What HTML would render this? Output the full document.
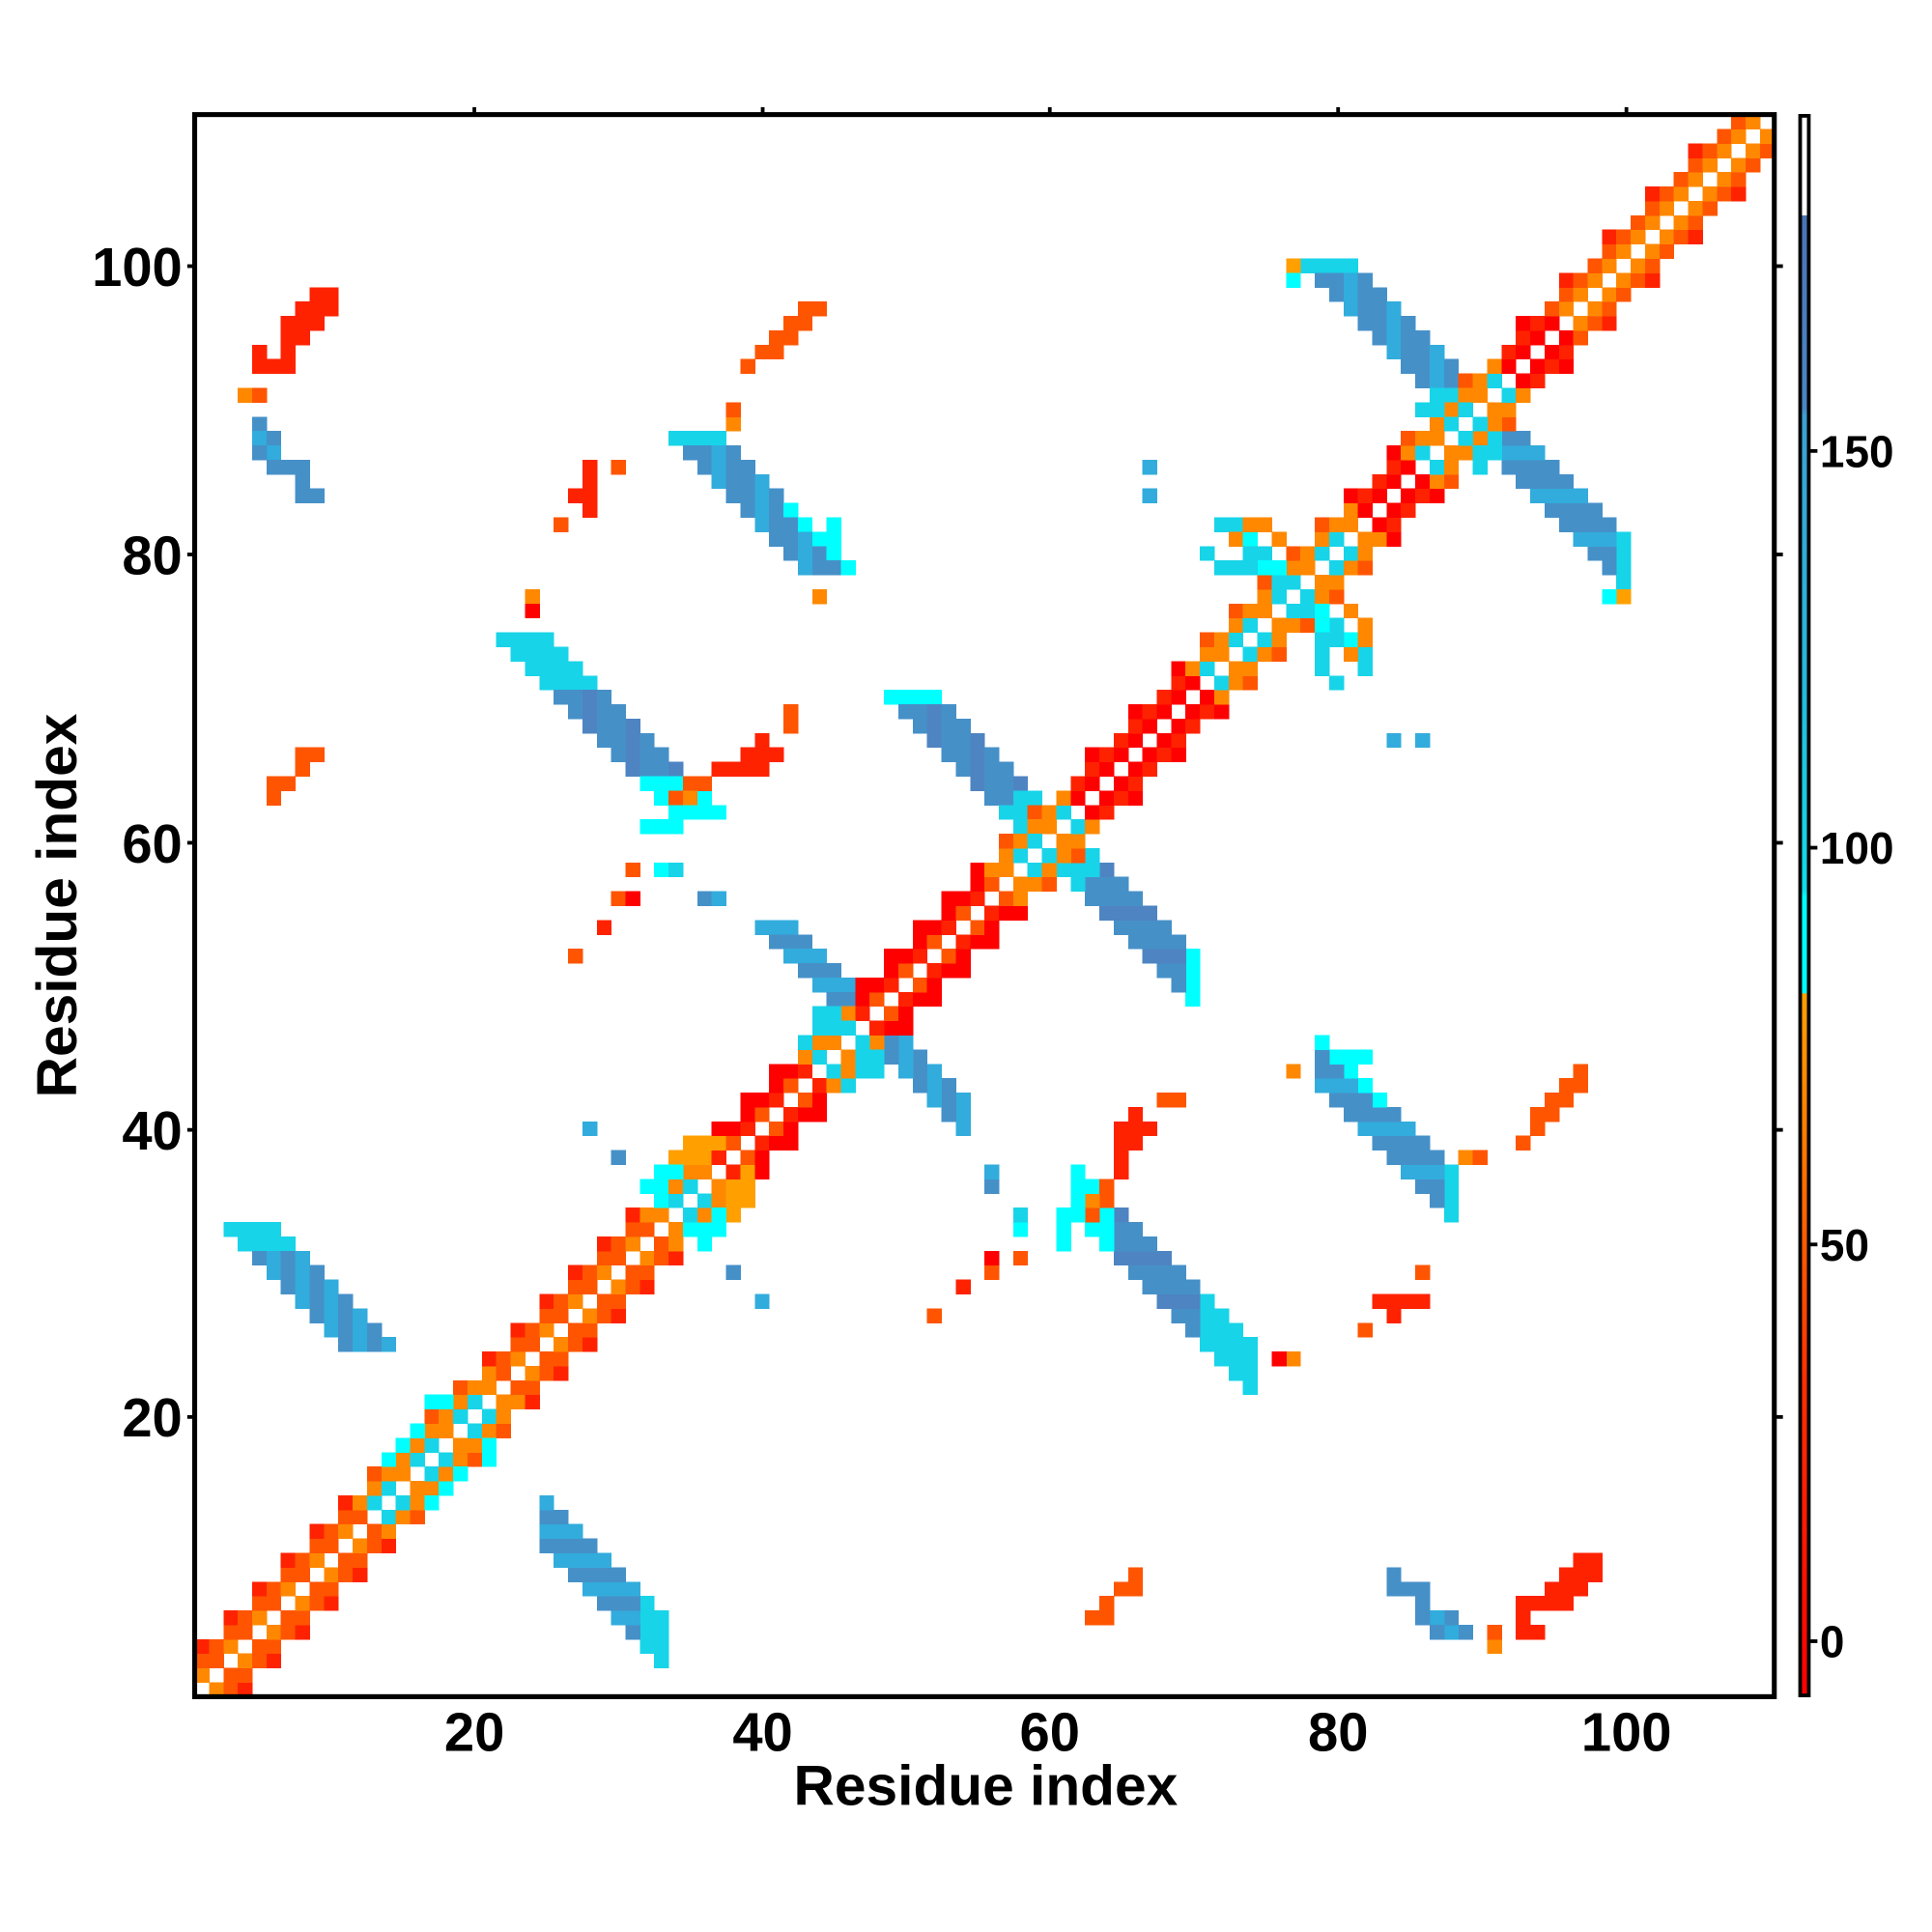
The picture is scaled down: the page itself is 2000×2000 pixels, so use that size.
<!DOCTYPE html>
<html><head><meta charset="utf-8">
<style>html,body{margin:0;padding:0;background:#fff}svg{display:block}text{font-family:"Liberation Sans",sans-serif;font-weight:bold}</style>
</head><body>
<svg id="s" xmlns="http://www.w3.org/2000/svg" width="2000" height="2000" viewBox="0 0 1568 1568">
<defs>
<linearGradient id="cb" x1="0" y1="0" x2="0" y2="1">
<stop offset="0" stop-color="#fff"/><stop offset="0.063" stop-color="#fff"/>
<stop offset="0.063" stop-color="#4a74b4"/><stop offset="0.185" stop-color="#4a86c2"/>
<stop offset="0.19" stop-color="#3ca0d2"/><stop offset="0.36" stop-color="#26b8da"/>
<stop offset="0.49" stop-color="#10dce8"/><stop offset="0.495" stop-color="#00ffff"/>
<stop offset="0.555" stop-color="#00ffff"/><stop offset="0.556" stop-color="#ffa000"/>
<stop offset="0.65" stop-color="#ff7a00"/><stop offset="0.8" stop-color="#ff3000"/>
<stop offset="1" stop-color="#ff0000"/>
</linearGradient>
</defs>
<g id="cells" shape-rendering="crispEdges"></g>
<rect x="158" y="93" width="1282" height="1284" fill="none" stroke="#000" stroke-width="4"/>
<g stroke="#000" stroke-width="3">
<line x1="385" y1="93" x2="385" y2="87"/><line x1="619" y1="93" x2="619" y2="87"/><line x1="852" y1="93" x2="852" y2="87"/><line x1="1086" y1="93" x2="1086" y2="87"/><line x1="1320" y1="93" x2="1320" y2="87"/>
<line x1="158" y1="216" x2="152" y2="216"/><line x1="158" y1="450" x2="152" y2="450"/><line x1="158" y1="684" x2="152" y2="684"/><line x1="158" y1="917" x2="152" y2="917"/><line x1="158" y1="1150" x2="152" y2="1150"/>
<line x1="1440" y1="216" x2="1447" y2="216"/><line x1="1440" y1="450" x2="1447" y2="450"/><line x1="1440" y1="684" x2="1447" y2="684"/><line x1="1440" y1="917" x2="1447" y2="917"/><line x1="1440" y1="1150" x2="1447" y2="1150"/>
<line x1="1468" y1="366" x2="1475" y2="366"/><line x1="1468" y1="688" x2="1475" y2="688"/><line x1="1468" y1="1010" x2="1475" y2="1010"/><line x1="1468" y1="1332" x2="1475" y2="1332"/>
</g>
<rect x="1461" y="94" width="7" height="1282" fill="url(#cb)" stroke="#000" stroke-width="3"/>
<g font-size="44" text-anchor="middle">
<text x="385" y="1421">20</text><text x="619" y="1421">40</text><text x="852" y="1421">60</text><text x="1086" y="1421">80</text><text x="1320" y="1421">100</text>
</g>
<g font-size="44" text-anchor="end">
<text x="148" y="232">100</text><text x="148" y="466">80</text><text x="148" y="700">60</text><text x="148" y="933">40</text><text x="148" y="1166">20</text>
</g>
<g font-size="36">
<text x="1477" y="379">150</text><text x="1477" y="701">100</text><text x="1477" y="1023">50</text><text x="1477" y="1345">0</text>
</g>
<text x="800" y="1465" font-size="46" text-anchor="middle">Residue index</text>
<text transform="translate(62,735) rotate(-90)" font-size="46" text-anchor="middle">Residue index</text>
</svg>
<script>
var R='#ff0000',R2='#ff2200',OR='#ff5500',O='#ff8800',O2='#ffa000',C='#00ffff',C2='#18d4e8',B1='#32acdc',B='#4690c8',B2='#4e84c2';
var cells={};
function set(x,y,c){if(x<1||y<1||x>110||y>110||x===y)return;cells[x+','+y]=c;cells[y+','+x]=c;}
function band(xs,ys,n,w,f){for(var k=0;k<n;k++){for(var t=0;t<w;t++){set(xs+k+t,ys-k,f(k,t,n));}}}
function list(a,c){a.forEach(function(p){set(p[0],p[1],p[2]||c);});}
function inS(m){var s=[[13,22],[33,37],[44,47],[57,62],[71,82],[86,92]];for(var i=0;i<s.length;i++)if(m>=s[i][0]&&m<=s[i][1])return true;return false;}
// blue bands first (diagonal drawn over them)
band(3,33,9,4,function(k,t){return k<2?C2:((k+t)%2?B1:B);});
band(22,74,13,4,function(k,t){return k<4?C2:k>9?C:((k+t)%3?B:B2);});
list([[32,61],[33,61],[34,61]],C);
band(34,88,10,4,function(k,t){return k<1?C2:(t==3&&k>4)?C:((k+t)%3?B:B1);});
list([[45,81],[45,82],[45,80]],C);
band(49,70,10,4,function(k,t){return k<1?C:k>7?C2:((k+t)%3?B:B2);});
band(40,54,8,3,function(k){return k>5?C2:(k%2?B:B1);});
band(78,100,12,4,function(k,t){return k<1?C2:k>9?C2:((k+t)%3?B:B1);});
for(var i=1;i<=110;i++){for(var d=1;d<=3;d++){var j=i+d;var m=i+d/2;var c=null;
 if(inS(m)){c=d==1?((i%3==0)?O:C2):d==2?O:(i%2?OR:null);}
 else if(m<35){c=d==1?(i%2?O:OR):d==2?OR:(i%2?R2:null);}
 else if(m<58){c=d==1?(i%2?R2:OR):d==2?R:(i%2?R:null);}
 else if(m<96){c=d==1?R:d==2?R2:(i%3==0?R:null);}
 else {c=d==1?O:d==2?OR:(i%3==0?R2:null);}
 if(c)set(i,j,c);}}
band(72,82,5,2,function(k){return k%2?C:C2;});
list([[71,80],[73,79],[74,79],[75,80],[72,79]],C2);
list([[73,81],[74,82],[76,81],[75,82]],O);
list([[35,38],[36,38],[36,39],[37,39],[35,39],[34,38]],O2);
list([[33,36],[33,37],[34,37],[33,35],[32,36]],C);
list([[16,19],[15,18],[17,21],[18,21],[14,17]],C);
list([[44,47],[45,47],[44,48],[45,48],[43,46]],C2);
list([[58,62],[59,63],[57,62],[58,63]],C2);
list([[87,90],[88,91],[86,90],[87,91]],C2);
list([[77,100,O2],[77,99,C],[78,100,C2]]);
list([[5,89],[5,88],[6,88],[6,87],[5,87],[6,86],[7,86],[8,86],[8,85],[8,84],[9,84]],B);
list([[5,88],[6,87]],B1);
list([[4,91,O],[5,91,OR],[5,93],[5,94],[6,93],[7,93],[7,94],[7,95],[8,95],[8,96],[7,96],[8,97],[9,96],[9,97],[10,97],[9,98],[10,98]],R2);
list([[6,63],[7,64],[6,64],[8,65],[8,66],[9,66]],OR);
list([[28,83],[28,84],[28,85],[28,86],[27,84]],R2);list([[26,82],[30,86]],OR);
list([[38,89,O],[38,90,OR],[39,93],[40,94],[41,94],[41,95],[42,95],[42,96],[43,96],[43,97],[44,97]],OR);
list([[44,77]],O);list([[24,77,O],[24,76,R]]);
list([[34,63,OR],[35,63,O],[35,64,OR],[36,64,OR],[37,65],[38,65],[39,65],[40,65],[39,66],[40,66],[40,67],[41,66],[42,69,OR]],R2);
list([[31,58,OR],[30,56,OR],[31,56,R],[29,54,R2],[27,52,OR],[33,58,C],[34,58,C2],[36,56,B],[37,56,B1],[30,38,B],[28,40,B1],[42,68,OR],[67,84,B1],[67,86,B1]]);
var g=document.getElementById('cells'),h='',w=1282/110,hh=1284/110;
for(var k in cells){var p=k.split(',');var x=+p[0],y=+p[1];
 h+='<rect x="'+(158+(x-1)*w).toFixed(2)+'" y="'+(1377-y*hh).toFixed(2)+'" width="'+(w+0.4).toFixed(2)+'" height="'+(hh+0.4).toFixed(2)+'" fill="'+cells[k]+'"/>';}
g.innerHTML=h;
</script>
</body></html>
